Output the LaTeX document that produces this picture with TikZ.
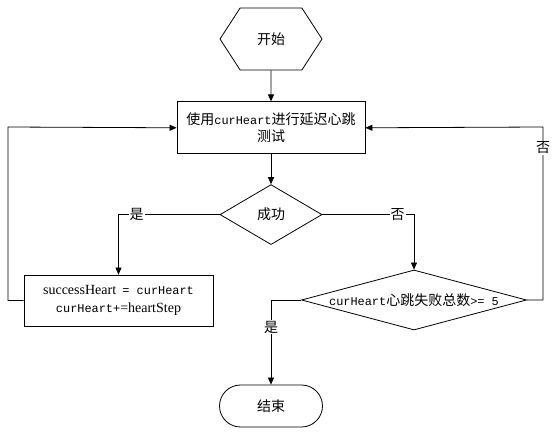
\documentclass[tikz,border=0pt]{standalone}
\usepackage{fontspec}
\setmainfont{Liberation Serif}
\setmonofont{Liberation Mono}[Scale=0.85]
\newfontfamily\cjk{Noto Sans CJK SC}
\usetikzlibrary{positioning, arrows.meta, shapes.geometric, shapes.symbols}

\begin{document}
\begin{tikzpicture}[
  x=1pt, y=-1pt,
  base/.style={draw=black, line width=0.8pt, align=center, font=\fontsize{14}{17.5}\selectfont\cjk},
  hexbox/.style={base, signal, signal to=west and east, signal pointer angle=114,
                 minimum width=102pt, minimum height=62pt, inner sep=0pt},
  procbox/.style={base, rectangle, minimum width=188pt, minimum height=52pt},
  decision/.style={base, diamond, inner sep=0pt},
  terminal/.style={base, rectangle, rounded corners=21pt, minimum width=103pt, minimum height=42pt},
  arrow/.style={-{Triangle[length=7pt, width=6pt]}, line width=0.8pt},
  tag/.style={fill=white, inner sep=1pt, font=\fontsize{14}{15}\selectfont\cjk},
  node distance=30pt
]
  \useasboundingbox (0,0) rectangle (560,435);

  \node[hexbox] (start) at (271,39) {开始};
  \node[procbox, below=31pt of start] (test) {使用{\ttfamily curHeart}进行延迟心跳\\测试};
  \node[decision, below=of test, minimum width=102pt, minimum height=60pt] (ok) {成功};
  \node[procbox, minimum width=189pt, minimum height=51pt] (update) at (118.5,300.5)
       {{\rmfamily successHeart}\ \ {\ttfamily = curHeart}\\{\ttfamily curHeart+}{\rmfamily =heartStep}};
  \node[decision, aspect=3.75, minimum width=225pt, minimum height=60pt] (fails) at (414,300)
       {{\ttfamily curHeart}心跳失败总数{\ttfamily >= 5}};
  \node[terminal] (stop) at (271,406) {结束};
  \coordinate (rgt) at (543,127);
  \coordinate (lft) at (8,127);

  \draw[arrow] (start) -- (test);
  \draw[arrow] (test) -- (ok);
  \draw[arrow] (ok.west) -| node[tag, pos=0.41] {是} (update.north);
  \draw[arrow] (ok.east) -| node[tag, pos=0.41] {否} (fails.north);
  \draw[arrow] (fails.west) -| node[tag, pos=0.66] {是} (stop.north);
  \draw[arrow] (fails.east) -| node[tag, pos=0.94] {否} (rgt) -- (test.east);
  \draw[arrow] (update.west) -| (lft) -- (test.west);
\end{tikzpicture}
\end{document}
